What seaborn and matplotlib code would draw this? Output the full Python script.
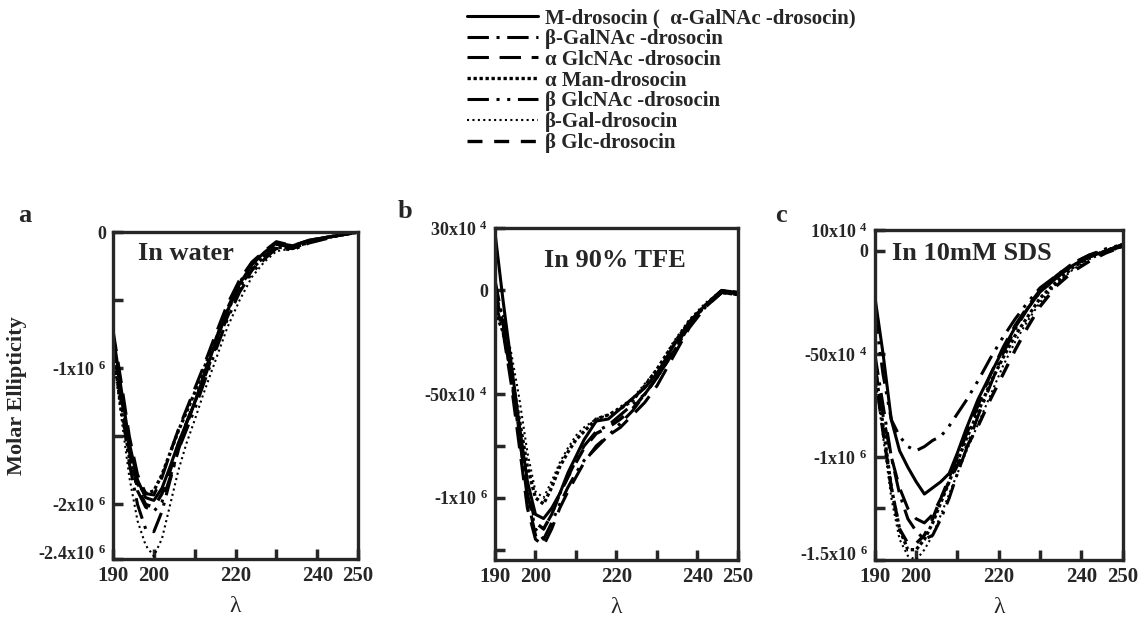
import numpy as np
import pandas as pd
import seaborn as sns
import matplotlib.pyplot as plt
from matplotlib.transforms import ScaledTranslation

# wavelength grid (nm) and CD curves, values in units of 10^6
wavelength = [190, 192, 194, 196, 198, 200, 202, 204, 206, 208, 210, 212,
              215, 218, 221, 224, 227, 230, 234, 238, 242, 246, 250]

names = ['M-drosocin (  α-GalNAc -drosocin)', 'β-GalNAc -drosocin',
         'α GlcNAc -drosocin', 'α Man-drosocin', 'β GlcNAc -drosocin',
         'β-Gal-drosocin', 'β Glc-drosocin']

# panel a: in water
water_m = [-0.75, -1.15, -1.55, -1.82, -1.95, -1.97, -1.88, -1.72, -1.55, -1.40, -1.25, -1.08,
           -0.82, -0.58, -0.38, -0.24, -0.15, -0.08, -0.10, -0.06, -0.04, -0.02, 0.0]
water_bgalnac = [-0.80, -1.25, -1.70, -2.00, -2.18, -2.20, -2.05, -1.82, -1.60, -1.42, -1.25, -1.07,
                 -0.80, -0.56, -0.37, -0.23, -0.15, -0.09, -0.11, -0.06, -0.04, -0.02, 0.0]
water_aglcnac = [-0.72, -1.10, -1.50, -1.78, -1.92, -1.93, -1.80, -1.62, -1.45, -1.30, -1.15, -1.00,
                 -0.76, -0.53, -0.35, -0.22, -0.14, -0.07, -0.10, -0.06, -0.04, -0.02, 0.0]
water_aman = [-0.85, -1.30, -1.65, -1.85, -1.92, -1.90, -1.78, -1.62, -1.46, -1.32, -1.18, -1.02,
              -0.80, -0.58, -0.40, -0.27, -0.18, -0.11, -0.12, -0.07, -0.04, -0.02, 0.0]
water_bglcnac = [-0.80, -1.20, -1.60, -1.90, -2.02, -2.05, -1.98, -1.80, -1.60, -1.45, -1.30, -1.13,
                 -0.88, -0.64, -0.44, -0.30, -0.20, -0.12, -0.13, -0.08, -0.05, -0.02, 0.0]
water_bgal = [-0.90, -1.35, -1.80, -2.12, -2.30, -2.38, -2.25, -2.00, -1.75, -1.55, -1.38, -1.20,
              -0.95, -0.70, -0.50, -0.33, -0.22, -0.14, -0.12, -0.08, -0.05, -0.02, 0.0]
water_bglc = [-0.78, -1.18, -1.60, -1.88, -2.00, -2.02, -1.92, -1.75, -1.56, -1.40, -1.25, -1.10,
              -0.85, -0.62, -0.42, -0.28, -0.18, -0.10, -0.12, -0.07, -0.04, -0.02, 0.0]

# panel b: in 90% TFE
tfe_m = [0.28, -0.05, -0.35, -0.65, -0.92, -1.08, -1.10, -1.05, -0.98, -0.88, -0.80, -0.72,
         -0.63, -0.62, -0.57, -0.52, -0.47, -0.40, -0.27, -0.15, -0.07, 0.0, -0.01]
tfe_bgalnac = [0.05, -0.15, -0.40, -0.70, -1.00, -1.18, -1.15, -1.08, -0.98, -0.90, -0.82, -0.75,
               -0.68, -0.65, -0.60, -0.55, -0.50, -0.42, -0.30, -0.17, -0.08, -0.01, -0.02]
tfe_aglcnac = [-0.05, -0.20, -0.45, -0.75, -1.05, -1.20, -1.23, -1.15, -1.05, -0.97, -0.90, -0.83,
               -0.75, -0.70, -0.66, -0.60, -0.54, -0.46, -0.32, -0.18, -0.08, -0.01, -0.02]
tfe_aman = [-0.10, -0.20, -0.40, -0.62, -0.85, -1.00, -1.03, -0.95, -0.85, -0.78, -0.72, -0.68,
            -0.62, -0.60, -0.57, -0.53, -0.46, -0.38, -0.26, -0.15, -0.07, -0.01, -0.02]
tfe_bglcnac = [0.0, -0.18, -0.42, -0.70, -0.98, -1.15, -1.20, -1.12, -1.03, -0.95, -0.88, -0.82,
               -0.76, -0.70, -0.64, -0.58, -0.50, -0.42, -0.30, -0.17, -0.07, 0.0, -0.02]
tfe_bgal = [-0.05, -0.12, -0.30, -0.52, -0.78, -0.97, -1.00, -0.92, -0.83, -0.76, -0.70, -0.66,
            -0.62, -0.60, -0.56, -0.52, -0.45, -0.38, -0.25, -0.14, -0.06, 0.0, -0.01]
tfe_bglc = [0.0, -0.16, -0.40, -0.68, -0.95, -1.12, -1.15, -1.08, -0.98, -0.90, -0.83, -0.76,
            -0.69, -0.66, -0.62, -0.57, -0.50, -0.42, -0.29, -0.16, -0.07, 0.0, -0.01]

# panel c: in 10mM SDS
sds_m = [-0.22, -0.50, -0.82, -0.97, -1.05, -1.12, -1.18, -1.15, -1.12, -1.08, -0.98, -0.87,
         -0.72, -0.60, -0.48, -0.37, -0.28, -0.20, -0.13, -0.07, -0.03, 0.0, 0.03]
sds_bgalnac = [-0.50, -0.75, -1.00, -1.18, -1.30, -1.36, -1.40, -1.38, -1.30, -1.20, -1.08, -0.97,
               -0.80, -0.65, -0.50, -0.38, -0.28, -0.20, -0.13, -0.07, -0.03, 0.0, 0.02]
sds_aglcnac = [-0.55, -0.80, -1.00, -1.15, -1.25, -1.30, -1.32, -1.28, -1.20, -1.10, -1.00, -0.90,
               -0.75, -0.60, -0.47, -0.36, -0.27, -0.19, -0.12, -0.06, -0.02, 0.0, 0.03]
sds_aman = [-0.55, -0.85, -1.15, -1.35, -1.45, -1.45, -1.40, -1.32, -1.22, -1.12, -1.02, -0.92,
            -0.78, -0.64, -0.52, -0.41, -0.32, -0.23, -0.15, -0.08, -0.03, 0.0, 0.03]
sds_bglcnac = [-0.30, -0.60, -0.82, -0.90, -0.95, -0.97, -0.95, -0.92, -0.90, -0.85, -0.79, -0.73,
               -0.63, -0.52, -0.42, -0.33, -0.25, -0.18, -0.12, -0.06, -0.02, 0.01, 0.03]
sds_bgal = [-0.60, -0.90, -1.20, -1.40, -1.48, -1.50, -1.45, -1.38, -1.28, -1.18, -1.08, -0.98,
            -0.84, -0.70, -0.56, -0.44, -0.34, -0.25, -0.16, -0.09, -0.04, -0.01, 0.02]
sds_bglc = [-0.58, -0.88, -1.15, -1.35, -1.42, -1.42, -1.38, -1.30, -1.20, -1.12, -1.04, -0.96,
            -0.85, -0.72, -0.60, -0.48, -0.37, -0.27, -0.17, -0.10, -0.05, -0.01, 0.02]

water = [water_m, water_bgalnac, water_aglcnac, water_aman, water_bglcnac, water_bgal, water_bglc]
tfe = [tfe_m, tfe_bgalnac, tfe_aglcnac, tfe_aman, tfe_bglcnac, tfe_bgal, tfe_bglc]
sds = [sds_m, sds_bgalnac, sds_aglcnac, sds_aman, sds_bglcnac, sds_bgal, sds_bglc]

x_ticks = [190, 200, 210, 220, 230, 240, 250]
x_labels = ['190', '200', '', '220', '', '240', '250']

sns.set_style('ticks')
plt.rcParams['font.family'] = ['Liberation Serif', 'DejaVu Serif']
plt.rcParams['font.weight'] = 'bold'
plt.rcParams['mathtext.fontset'] = 'custom'
plt.rcParams['mathtext.rm'] = 'Liberation Serif:bold'
plt.rcParams['mathtext.it'] = 'Liberation Serif:bold'
plt.rcParams['mathtext.default'] = 'rm'

# line style and width for each series
line_styles = [('-', 2.2),
               ((0, (7, 2.5, 1, 2.5)), 2.2),
               ((0, (7, 3.5)), 2.2),
               ((0, (1, 0.8)), 2.4),
               ((0, (7, 2.5, 1, 2.5, 1, 2.5)), 2.2),
               ((0, (1, 1.6)), 1.5),
               ((0, (4.5, 3.5)), 2.4)]

fig = plt.figure(figsize=(11.45, 6.19), dpi=100)
ax_a = fig.add_axes([0.0987, 0.097, 0.214, 0.528])
ax_b = fig.add_axes([0.4323, 0.0953, 0.2122, 0.536])
ax_c = fig.add_axes([0.764, 0.0953, 0.2166, 0.533])

sup6 = ' $^{6}$'
sup4 = ' $^{4}$'
panels = [
    (ax_a, water, (-2.4, 0.0), [0, -0.5, -1, -1.5, -2, -2.4],
     ['0', '', '-1x10' + sup6, '', '-2x10' + sup6, '-2.4x10' + sup6],
     'In water', (0.10, 0.936), 'a', (18, 215)),
    (ax_b, tfe, (-1.3, 0.3), [0.3, 0, -0.5, -0.75, -1, -1.25],
     ['30x10' + sup4, '0', '-50x10' + sup4, '', '-1x10' + sup6, ''],
     'In 90% TFE', (0.2, 0.904), 'b', (398, 212)),
    (ax_c, sds, (-1.5, 0.1), [0.1, 0, -0.5, -1, -1.25, -1.5],
     ['10x10' + sup4, '0', '-50x10' + sup4, '-1x10' + sup6, '', '-1.5x10' + sup6],
     'In 10mM SDS', (0.07, 0.93), 'c', (775, 215)),
]

lift = ScaledTranslation(0, 5 / 72, fig.dpi_scale_trans)

for ax, data, ylim, yt, ytl, title, tpos, letter, lpos in panels:
    for name, vals, (ls, lw) in zip(names, data, line_styles):
        sns.lineplot(x=wavelength, y=vals, ax=ax, color='black', linestyle=ls,
                     linewidth=lw, label=name, legend=False)
    ax.set_xlim(190, 250)
    ax.set_ylim(*ylim)
    ax.set_xticks(x_ticks)
    ax.set_xticklabels(x_labels, fontsize=15, fontweight='bold')
    ax.set_yticks(yt)
    ax.set_yticklabels(ytl, fontsize=13, fontweight='bold')
    ax.tick_params(direction='in', length=7, width=2.5)
    ax.tick_params(axis='x', pad=5)
    ax.tick_params(axis='y', pad=5)
    # keep the lowest y label clear of the 190 label
    bottom_lbl = ax.get_yticklabels()[-1]
    bottom_lbl.set_transform(bottom_lbl.get_transform() + lift)
    for sp in ax.spines.values():
        sp.set_linewidth(2.4)
    ax.set_xlabel('λ', fontsize=17, fontweight='normal', labelpad=7)
    ax.set_ylabel('')
    ax.text(tpos[0], tpos[1], title, transform=ax.transAxes, fontsize=19,
            fontweight='bold', va='center', ha='left')
    fig.text(lpos[0] / 1145, 1 - lpos[1] / 619, letter, fontsize=19,
             fontweight='bold', va='center', ha='left')

ax_a.set_ylabel('Molar Ellipticity', fontsize=16, fontweight='bold')
ax_a.yaxis.set_label_coords(-0.35, 0.5)

handles = ax_a.get_lines()
fig.legend(handles, names, loc='upper left', bbox_to_anchor=(0.408, 0.987),
           frameon=False, fontsize=15, handlelength=3.4, handletextpad=0.35,
           labelspacing=0.04, borderpad=0, borderaxespad=0)

fig.savefig('out.png', dpi=100)
